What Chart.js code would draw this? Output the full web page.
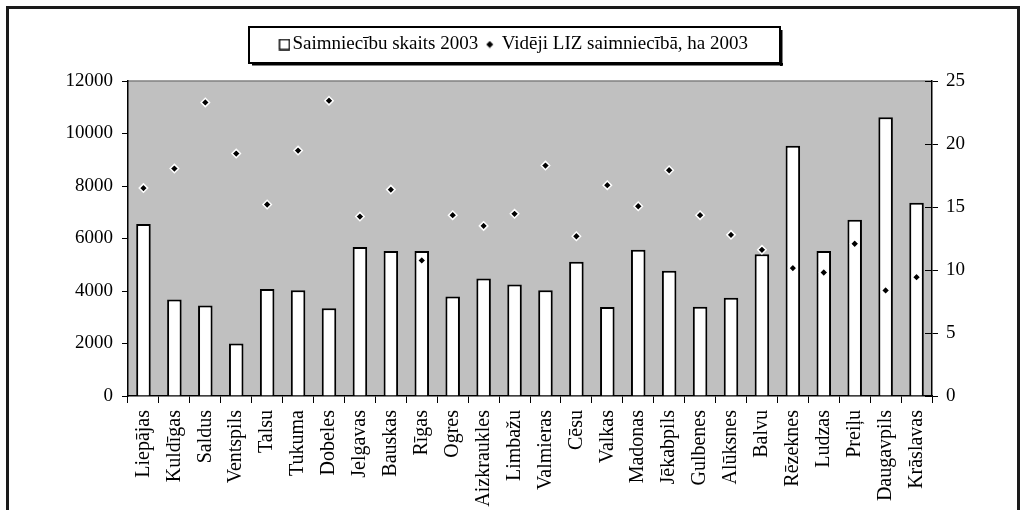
<!DOCTYPE html>
<html>
<head>
<meta charset="utf-8">
<script src="https://cdn.jsdelivr.net/npm/chart.js@4"></script>
<style>
  html, body { margin: 0; padding: 0; background: #fff; }
  canvas { display: block; }
</style>
</head>
<body>
<canvas id="chart" width="1022" height="510"></canvas>
<script>
const regions = ['Liepājas', 'Kuldīgas', 'Saldus', 'Ventspils', 'Talsu', 'Tukuma', 'Dobeles',
  'Jelgavas', 'Bauskas', 'Rīgas', 'Ogres', 'Aizkraukles', 'Limbažu', 'Valmieras', 'Cēsu',
  'Valkas', 'Madonas', 'Jēkabpils', 'Gulbenes', 'Alūksnes', 'Balvu', 'Rēzeknes', 'Ludzas',
  'Preiļu', 'Daugavpils', 'Krāslavas'];
const farms = [6550, 3680, 3450, 2000, 4080, 4030, 3340, 5680, 5520, 5520, 3790, 4480, 4250,
  4030, 5110, 3390, 5570, 4770, 3400, 3740, 5400, 9530, 5520, 6710, 10620, 7360];
const avgArea = [16.5, 18.05, 23.3, 19.24, 15.2, 19.48, 23.44, 14.24, 16.38, 10.76, 14.35, 13.5,
  14.46, 18.29, 12.68, 16.73, 15.06, 17.92, 14.35, 12.79, 11.6, 10.15, 9.8, 12.08, 8.38, 9.43];
const leftTicks = [0, 2000, 4000, 6000, 8000, 10000, 12000];
const rightTicks = [0, 5, 10, 15, 20, 25];

const SERIF = "'Liberation Serif', 'Times New Roman', serif";

// legend icons (drawn off-centre so the gap to the text matches)
var sq = document.createElement('canvas');
sq.width = 16; sq.height = 12;
var c1 = sq.getContext('2d');
c1.fillStyle = '#fff';
c1.fillRect(5, 1, 10, 10);
c1.strokeStyle = '#000';
c1.lineWidth = 1.5;
c1.strokeRect(5, 1, 10, 10);

var dm = document.createElement('canvas');
dm.width = 12; dm.height = 8;
var c2 = dm.getContext('2d');
c2.fillStyle = '#000';
c2.beginPath();
c2.moveTo(4, 0.5); c2.lineTo(7.5, 4); c2.lineTo(4, 7.5); c2.lineTo(0.5, 4);
c2.closePath();
c2.fill();

// frame, plot background, legend box, inner half of right ticks
const decor = {
  id: 'decor',
  beforeInit(chart) {
    const fit = chart.legend.fit;
    chart.legend.fit = function () {
      fit.bind(chart.legend)();
      this.height += 17;
    };
  },
  beforeDraw(chart) {
    const ctx = chart.ctx;
    const a = chart.chartArea;
    ctx.save();
    ctx.fillStyle = '#fff';
    ctx.fillRect(0, 0, chart.width, chart.height);
    ctx.strokeStyle = '#1a1a1a';
    ctx.lineWidth = 3;
    ctx.strokeRect(7.5, 7.5, 1011, 600);
    ctx.fillStyle = '#c0c0c0';
    ctx.fillRect(a.left, a.top, a.right - a.left, a.bottom - a.top);
    ctx.strokeStyle = '#808080';
    ctx.lineWidth = 1.5;
    ctx.beginPath();
    ctx.moveTo(a.left, a.top);
    ctx.lineTo(a.right, a.top);
    ctx.stroke();
    ctx.restore();
  },
  beforeDatasetsDraw(chart) {
    const ctx = chart.ctx;
    const s = chart.scales.y1;
    ctx.save();
    ctx.strokeStyle = '#000';
    ctx.lineWidth = 1;
    s.ticks.forEach(function (t) {
      var y = Math.round(s.getPixelForValue(t.value)) + 0.5;
      ctx.beginPath();
      ctx.moveTo(chart.chartArea.right - 7, y);
      ctx.lineTo(chart.chartArea.right, y);
      ctx.stroke();
    });
    ctx.restore();
  },
  afterDraw(chart) {
    const ctx = chart.ctx;
    const lg = chart.legend;
    const hb = lg.legendHitBoxes;
    if (!hb || hb.length < 2) return;
    const x0 = Math.round(hb[0].left - 32.5);
    const x1 = Math.round(hb[1].left + hb[1].width + 32);
    const y0 = Math.round(lg.top + 5);
    const y1 = Math.round(lg.top + 41);
    ctx.save();
    ctx.fillStyle = '#000';
    ctx.fillRect(x0 + 3, y1, x1 - x0, 2.5);
    ctx.fillRect(x1, y0 + 3, 2.5, y1 - y0);
    ctx.strokeStyle = '#000';
    ctx.lineWidth = 2;
    ctx.strokeRect(x0, y0, x1 - x0, y1 - y0);
    ctx.restore();
  }
};

new Chart(document.getElementById('chart'), {
  data: {
    labels: regions,
    datasets: [
      {
        type: 'bar',
        label: 'Saimniecību skaits 2003',
        data: farms,
        yAxisID: 'y',
        backgroundColor: '#fff',
        borderColor: '#000',
        borderWidth: 2,
        barPercentage: 0.47,
        categoryPercentage: 1,
        order: 1
      },
      {
        type: 'line',
        label: 'Vidēji LIZ saimniecībā, ha 2003',
        data: avgArea,
        yAxisID: 'y1',
        showLine: false,
        pointStyle: 'rectRot',
        pointRadius: 4.2,
        pointHoverRadius: 4.2,
        pointBackgroundColor: '#000',
        pointBorderColor: '#fff',
        pointBorderWidth: 1.5,
        order: 0
      }
    ]
  },
  options: {
    responsive: false,
    animation: false,
    devicePixelRatio: 1,
    layout: { padding: { top: 22, left: 8, right: 0, bottom: 0 } },
    plugins: {
      tooltip: { enabled: false },
      legend: {
        position: 'top',
        labels: {
          usePointStyle: true,
          boxWidth: 1,
          padding: 13,
          color: '#000',
          font: { family: SERIF, size: 19 },
          generateLabels(chart) {
            var items = Chart.defaults.plugins.legend.labels.generateLabels(chart);
            items.sort((a, b) => a.datasetIndex - b.datasetIndex);
            items.forEach(it => { it.pointStyle = it.datasetIndex === 0 ? sq : dm; });
            return items;
          }
        }
      }
    },
    scales: {
      x: {
        offset: true,
        grid: { offset: true, drawOnChartArea: false, drawTicks: true, tickLength: 7, color: '#000' },
        border: { display: true, color: '#000', width: 1.5 },
        ticks: {
          autoSkip: false, minRotation: 90, maxRotation: 90, padding: 7,
          color: '#000', font: { family: SERIF, size: 20 }
        },
        afterFit(scale) { scale.height = 114; }
      },
      y: {
        position: 'left',
        min: 0, max: 12000,
        afterBuildTicks(scale) { scale.ticks = leftTicks.map(v => ({ value: v })); },
        grid: { drawOnChartArea: false, drawTicks: true, tickLength: 6, color: '#000' },
        border: { display: true, color: '#000', width: 1.5 },
        ticks: {
          padding: 9, color: '#000', font: { family: SERIF, size: 19 },
          callback: v => String(v)
        },
        afterFit(scale) { scale.width = 120; }
      },
      y1: {
        position: 'right',
        min: 0, max: 25,
        afterBuildTicks(scale) { scale.ticks = rightTicks.map(v => ({ value: v })); },
        grid: { drawOnChartArea: false, drawTicks: true, tickLength: 6, color: '#000' },
        border: { display: true, color: '#000', width: 1.5 },
        ticks: {
          padding: 8, color: '#000', font: { family: SERIF, size: 19 },
          callback: v => String(v)
        },
        afterFit(scale) { scale.width = 90; }
      }
    }
  },
  plugins: [decor]
});
</script>
</body>
</html>
